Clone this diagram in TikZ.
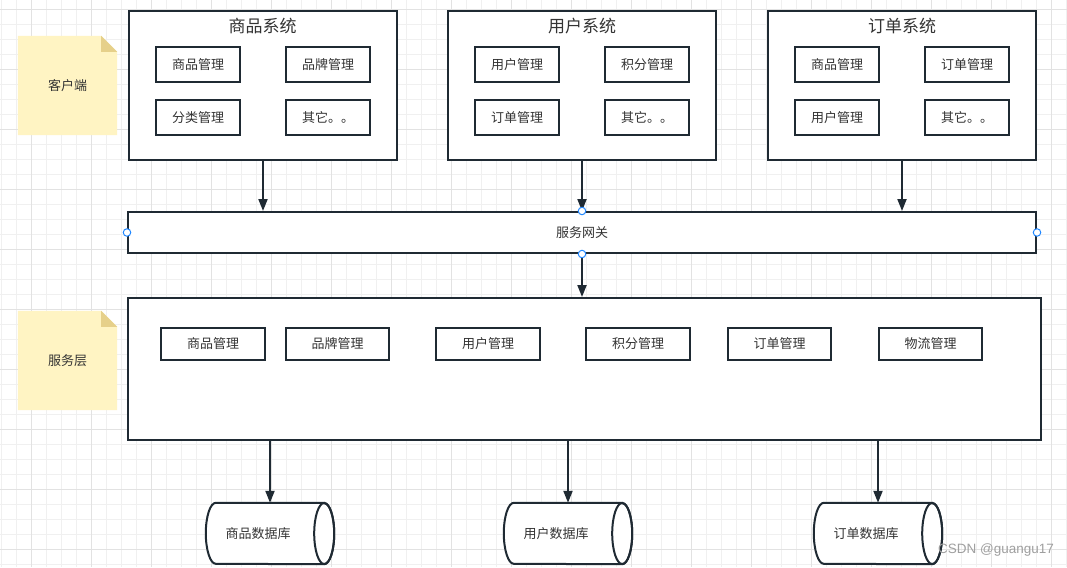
\documentclass[tikz,border=0pt]{standalone}
\usepackage{fontspec}
\setmainfont{Noto Sans CJK SC}
\newfontfamily\wmfont{Liberation Sans}
\usetikzlibrary{arrows.meta}
\definecolor{ln}{HTML}{1F2A33}
\definecolor{tx}{HTML}{333333}
\definecolor{notey}{HTML}{FFF4C3}
\definecolor{notef}{HTML}{E6D08A}
\definecolor{gridmin}{HTML}{F0F0F0}
\definecolor{gridmaj}{HTML}{E2E2E2}
\definecolor{portc}{HTML}{2288FF}
\begin{document}
\begin{tikzpicture}[x=1pt,y=-1pt,
  sysbox/.style={draw=ln,line width=2pt,fill=white,minimum width=268pt,minimum height=149pt,inner sep=0pt},
  systitle/.style={text=tx,font=\fontsize{17}{20}\selectfont,inner sep=0pt},
  modbox/.style={draw=ln,line width=2pt,fill=white,minimum width=84pt,minimum height=35pt,inner sep=0pt,text=tx,font=\fontsize{13}{15}\selectfont},
  svcmod/.style={modbox,minimum width=104pt,minimum height=32pt},
  bigbox/.style={draw=ln,line width=2pt,fill=white,inner sep=0pt,text=tx,font=\fontsize{13}{15}\selectfont},
  notebox/.style={minimum width=99pt,minimum height=99pt,inner sep=0pt,text=tx,font=\fontsize{13}{15}\selectfont},
  port/.style={circle,draw=portc,fill=white,line width=1pt,minimum size=7.5pt,inner sep=0pt},
  arr/.style={draw=ln,line width=2pt,-{Triangle[length=12pt,width=9pt]}},
  dbnode/.style={minimum width=128pt,minimum height=61pt,inner sep=0pt},
  dbline/.style={draw=ln,line width=2pt},
  dbtext/.style={inner sep=0pt,text=tx,font=\fontsize{13}{15}\selectfont}
]
\useasboundingbox (0,0) rectangle (1067,567);
\fill[white] (0,0) rectangle (1067,567);
% grid
\foreach \i in {0,...,71} {\draw[gridmin,line width=1pt] ({1.7+15*\i},0) -- ({1.7+15*\i},567);}
\foreach \i in {0,...,38} {\draw[gridmin,line width=1pt] (0,{9.3+15*\i}) -- (1067,{9.3+15*\i});}
\foreach \i in {0,...,17} {\draw[gridmaj,line width=1pt] ({31.7+60*\i},0) -- ({31.7+60*\i},567);}
\foreach \i in {0,...,9} {\draw[gridmaj,line width=1pt] (0,{9.3+60*\i}) -- (1067,{9.3+60*\i});}

% sticky notes
\node[notebox] (n1) at (67.5,85.5) {};
\node[notebox] (n2) at (67.5,360.5) {};
\foreach \n in {n1,n2} {
  \fill[notey] (\n.north west) -- ([xshift=-16pt]\n.north east) -- ([yshift=-16pt]\n.north east) -- (\n.south east) -- (\n.south west) -- cycle;
  \fill[notef] ([xshift=-16pt]\n.north east) -- ([xshift=-16pt,yshift=-16pt]\n.north east) -- ([yshift=-16pt]\n.north east) -- cycle;
}
\node[notebox] (n1t) at (n1.center) {客户端};
\node[notebox] (n2t) at (n2.center) {服务层};

% top systems
\node[sysbox] (s1) at (263,85.5) {};
\node[sysbox] (s2) at (582,85.5) {};
\node[sysbox] (s3) at (902,85.5) {};
\node[systitle] (t1) at (262.5,26) {商品系统};
\node[systitle] (t2) at (582,26) {用户系统};
\node[systitle] (t3) at (902,26) {订单系统};

\node[modbox] (a1) at (198,64.5) {商品管理};
\node[modbox] (a2) at (328,64.5) {品牌管理};
\node[modbox] (a3) at (198,117.5) {分类管理};
\node[modbox] (a4) at (328,117.5) {其它。。};

\node[modbox] (b1) at (517,64.5) {用户管理};
\node[modbox] (b2) at (647,64.5) {积分管理};
\node[modbox] (b3) at (517,117.5) {订单管理};
\node[modbox] (b4) at (647,117.5) {其它。。};

\node[modbox] (c1) at (837,64.5) {商品管理};
\node[modbox] (c2) at (967,64.5) {订单管理};
\node[modbox] (c3) at (837,117.5) {用户管理};
\node[modbox] (c4) at (967,117.5) {其它。。};

% gateway
\node[bigbox,minimum width=908pt,minimum height=41pt] (gw) at (582,232.5) {服务网关};

% service layer
\node[bigbox,minimum width=913pt,minimum height=142pt] (svc) at (584.5,369) {};
\node[svcmod] (d1) at (213,344) {商品管理};
\node[svcmod,minimum width=103pt] (d2) at (337.5,344) {品牌管理};
\node[svcmod] (d3) at (488,344) {用户管理};
\node[svcmod] (d4) at (638,344) {积分管理};
\node[svcmod,minimum width=103pt] (d5) at (779.5,344) {订单管理};
\node[svcmod,minimum width=103pt] (d6) at (930.5,344) {物流管理};

% databases (horizontal cylinders)
\node[dbnode] (db1) at (270,533.5) {};
\node[dbnode] (db2) at (568,533.5) {};
\node[dbnode] (db3) at (878,533.5) {};
\foreach \d in {db1,db2,db3} {
  \filldraw[dbline,fill=white] ([xshift=-10pt]\d.north east) -- ([xshift=10pt]\d.north west)
    arc[start angle=90,end angle=270,x radius=10pt,y radius=30.5pt]
    -- ([xshift=-10pt]\d.south east)
    arc[start angle=-90,end angle=90,x radius=10pt,y radius=30.5pt] -- cycle;
  \draw[dbline] ([xshift=-10pt]\d.east) ellipse [x radius=10pt,y radius=30.5pt];
}
\node[dbtext] (db1t) at ([xshift=-12pt]db1.center) {商品数据库};
\node[dbtext] (db2t) at ([xshift=-12pt]db2.center) {用户数据库};
\node[dbtext] (db3t) at ([xshift=-12pt]db3.center) {订单数据库};

% arrows
\draw[arr] (s1.south) -- (s1.south |- gw.north);
\draw[arr] (s2.south) -- (s2.south |- gw.north);
\draw[arr] (s3.south) -- (s3.south |- gw.north);
\draw[arr] (gw.south) -- (gw.south |- svc.north);
\draw[arr] (db1.north |- svc.south) -- (db1.north);
\draw[arr] (db2.north |- svc.south) -- (db2.north);
\draw[arr] (db3.north |- svc.south) -- (db3.north);

% ports
\node[port] (p1) at (gw.west) {};
\node[port] (p2) at (gw.north) {};
\node[port] (p3) at (gw.south) {};
\node[port] (p4) at (gw.east) {};

% watermark
\node[text=gray!75,font=\wmfont\fontsize{13.5}{15}\selectfont,inner sep=0pt] (wm) at (996,550) {CSDN @guangu17};
\end{tikzpicture}
\end{document}
